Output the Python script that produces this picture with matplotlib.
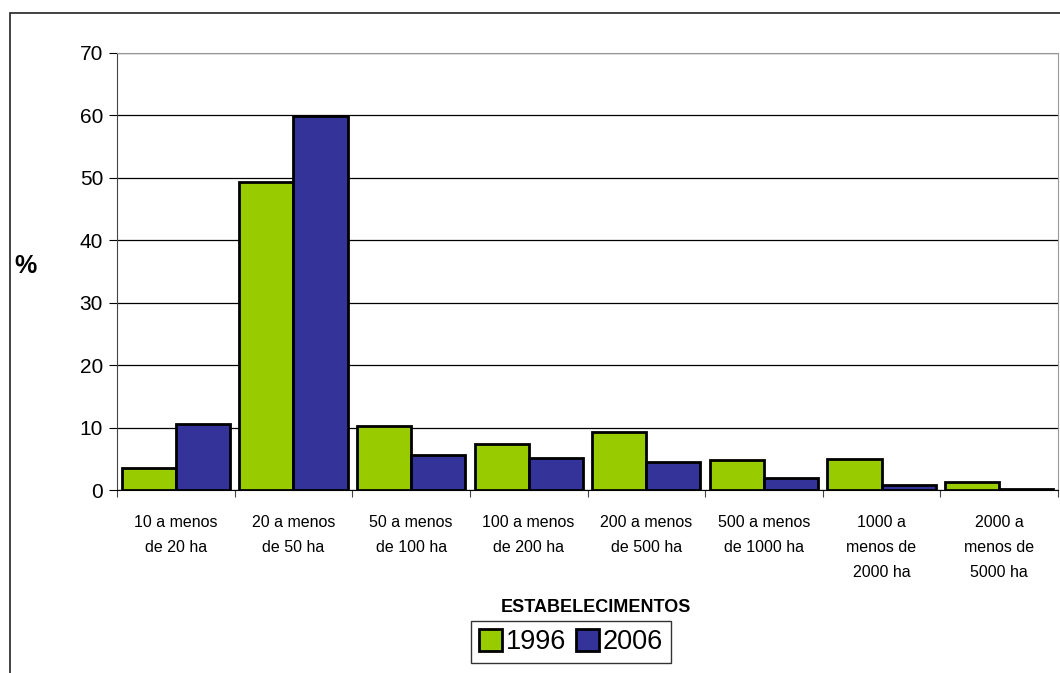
import numpy as np
import matplotlib.pyplot as plt
from matplotlib.patches import Rectangle

plt.rcParams['font.family'] = ['Liberation Sans', 'DejaVu Sans']

categorias = ["10 a menos\nde 20 ha", "20 a menos\nde 50 ha", "50 a menos\nde 100 ha",
              "100 a menos\nde 200 ha", "200 a menos\nde 500 ha", "500 a menos\nde 1000 ha",
              "1000 a\nmenos de\n2000 ha", "2000 a\nmenos de\n5000 ha"]
v1996 = [3.5, 49.4, 10.2, 7.3, 9.3, 4.8, 5.0, 1.3]
v2006 = [10.6, 59.9, 5.6, 5.1, 4.5, 1.9, 0.8, 0.15]

fig = plt.figure(figsize=(10.6, 6.73), dpi=100)
ax = fig.add_axes([117/1060, 1 - 490/673, (1058 - 117)/1060, (490 - 53)/673])

# outer chart border
fig.patches.append(Rectangle((10/1060, -0.1), 1.2, 1 - 13/673 + 0.1, transform=fig.transFigure,
                             fill=False, edgecolor='#222222', linewidth=1.2))

x = np.arange(len(categorias))
w = 0.46
ax.bar(x - w/2, v1996, w, color='#99cc00', edgecolor='black', linewidth=2, label='1996', zorder=3)
ax.bar(x + w/2, v2006, w, color='#333399', edgecolor='black', linewidth=2, label='2006', zorder=3)

ax.set_xlim(-0.5, len(categorias) - 0.5)
ax.set_ylim(0, 70)
ax.set_yticks(range(0, 71, 10))
ax.tick_params(axis='y', labelsize=15, length=6, direction='out', pad=4)
ax.yaxis.grid(True, color='black', linewidth=0.9, zorder=0)
ax.set_axisbelow(True)

ax.set_xticks(np.arange(len(categorias) + 1) - 0.5)
ax.set_xticklabels([])
ax.set_xticks(x, minor=True)
ax.set_xticklabels(categorias, minor=True, fontsize=11.5, linespacing=1.85)
ax.tick_params(axis='x', which='major', length=5, color='#444444')
ax.tick_params(axis='x', which='minor', length=0, pad=18)

ax.spines['left'].set_color('#444444')
ax.spines['bottom'].set_color('black')
ax.spines['top'].set_color('#999999')
ax.spines['right'].set_color('#999999')

fig.text(25/1060, 1 - 266/673, '%', fontsize=18, fontweight='bold', ha='center', va='center')
fig.text(596/1060, 1 - 607/673, 'ESTABELECIMENTOS', fontsize=13, fontweight='bold',
         ha='center', va='center')

leg = fig.legend(loc='center', bbox_to_anchor=(571/1060, 1 - 642/673), ncol=2, fontsize=19.5,
                 frameon=True, fancybox=False, edgecolor='black', handlelength=0.85,
                 handleheight=0.85, handletextpad=0.15, columnspacing=0.35, borderpad=0.3)
leg.get_frame().set_linewidth(1)

fig.savefig('out.png', dpi=100)
